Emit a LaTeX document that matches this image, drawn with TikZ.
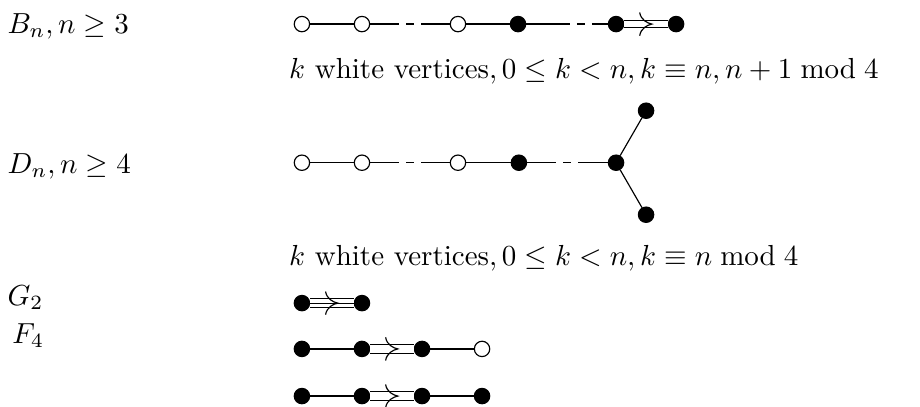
\documentclass[tikz,border=0pt]{standalone}
\usepackage{amsmath,amssymb}
\usetikzlibrary{calc,decorations.markings}

\tikzset{
  wv/.style={circle,draw,fill=white,inner sep=0pt,minimum size=5.3pt},
  bv/.style={circle,draw,fill=black,inner sep=0pt,minimum size=5.3pt},
  gapline/.style={dash pattern=on #1 off 2.4pt on 2.8pt off 2.4pt on 40pt},
  gapline/.default=10pt,
  chev/.style={postaction={decorate,decoration={markings,mark=at position 0.5 with
    {\draw (-2.2pt,4pt) .. controls (-1.8pt,1.4pt) and (0.5pt,0.3pt) .. (2pt,0pt)
       .. controls (0.5pt,-0.3pt) and (-1.8pt,-1.4pt) .. (-2.2pt,-4pt);}}}},
}

\begin{document}
\begin{tikzpicture}[x=1pt,y=1pt]
    \useasboundingbox (0,0) rectangle (317.2,140);

    % Labels
    \node[anchor=base west,inner sep=0pt] (lB) at (2.4,128.6) {$B_n, n\geq 3$};
    \node[anchor=base west,inner sep=0pt] (lD) at (2.4,80.3) {$D_n, n\geq 4$};
    \node[anchor=base west,inner sep=0pt] (lG) at (2.4,34.8) {$G_2$};
    \node[anchor=base west,inner sep=0pt] (lF) at (4.1,21.7) {$F_4$};

    % B_n
    \node[wv] (b1) at (104.1,131.7) {};
    \node[wv] (b2) at (124.8,131.7) {};
    \node[wv] (b3) at (157.9,131.7) {};
    \node[bv] (b4) at (178.6,131.7) {};
    \node[bv] (b5) at (212.4,131.7) {};
    \node[bv] (b6) at (233.1,131.7) {};
    \draw (b1) -- (b2);
    \draw[gapline] (b2) -- (b3);
    \draw (b3) -- (b4);
    \draw[gapline=15pt] (b4) -- (b5);
    \draw[double,double distance=2.1pt,chev] (b5) -- (b6);
    \node[anchor=base west,inner sep=0pt] (tB) at (99.5,113.1)
        {$k$ white vertices$, 0\leq k<n, k\equiv n, n+1 \bmod 4$};

    % D_n
    \node[wv] (d1) at (104.1,83.9) {};
    \node[wv] (d2) at (124.8,83.9) {};
    \node[wv] (d3) at (157.9,83.9) {};
    \node[bv] (d4) at (178.9,83.9) {};
    \node[bv] (d5) at (212.4,83.9) {};
    \node[bv] (d6) at ($(d5)+(60:20.7)$) {};
    \node[bv] (d7) at ($(d5)+(-60:20.7)$) {};
    \draw (d1) -- (d2);
    \draw[gapline] (d2) -- (d3);
    \draw (d3) -- (d4);
    \draw[gapline] (d4) -- (d5);
    \draw (d5) -- (d6);
    \draw (d5) -- (d7);
    \node[anchor=base west,inner sep=0pt] (tD) at (99.5,48.3)
        {$k$ white vertices$, 0\leq k<n, k\equiv n \bmod 4$};

    % G_2
    \node[bv] (g1) at (104.1,35.5) {};
    \node[bv] (g2) at (124.8,35.5) {};
    \draw[double,double distance=2.8pt] (g1) -- (g2);
    \draw[chev] (g1) -- (g2);

    % F_4
    \foreach \r/\y in {1/19.7,2/3.45} {
        \node[bv] (f\r1) at (104.1,\y) {};
        \node[bv] (f\r2) at (124.8,\y) {};
        \node[bv] (f\r3) at (145.5,\y) {};
        \draw (f\r1) -- (f\r2);
        \draw[double,double distance=2.5pt,chev] (f\r2) -- (f\r3);
    }
    \node[wv] (f14) at (166.2,19.7) {};
    \node[bv] (f24) at (166.2,3.45) {};
    \draw (f13) -- (f14);
    \draw (f23) -- (f24);
\end{tikzpicture}
\end{document}
